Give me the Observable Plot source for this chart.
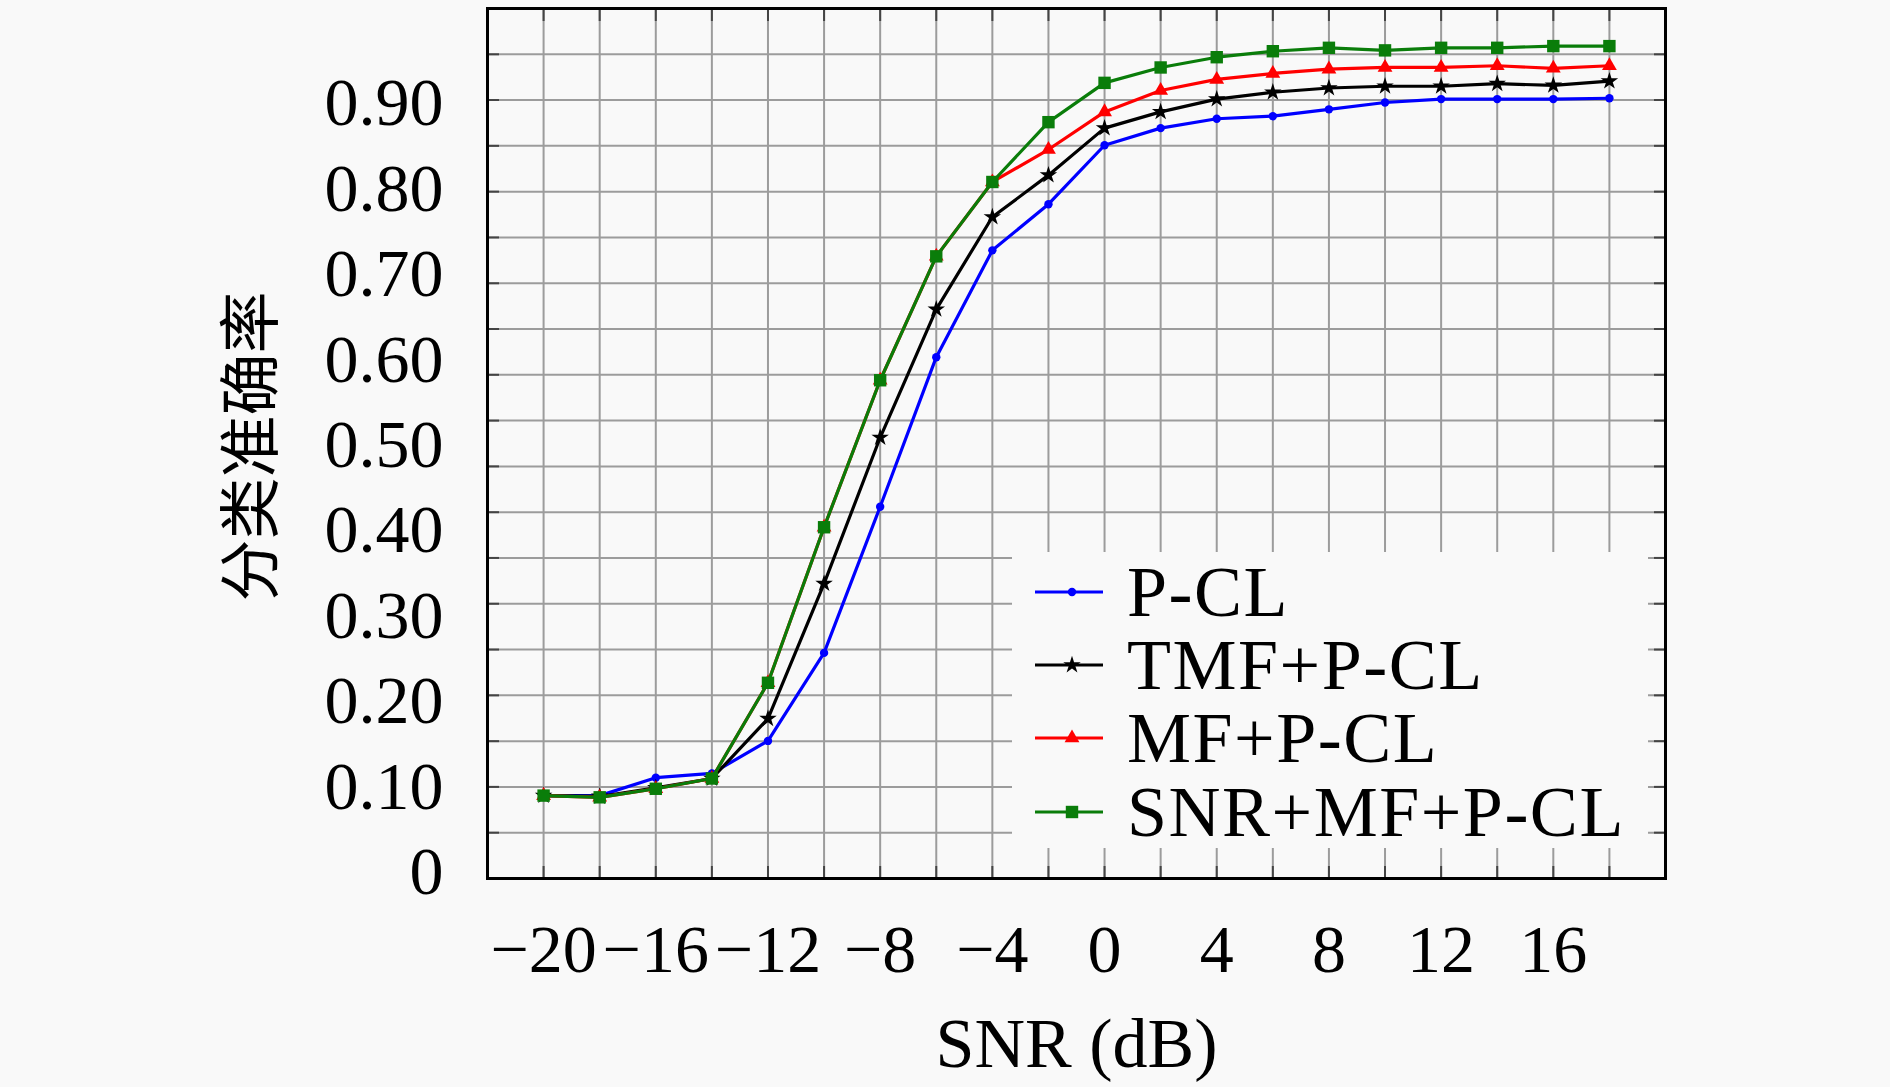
<!DOCTYPE html>
<html><head><meta charset="utf-8">
<script src="https://cdn.jsdelivr.net/npm/d3@7"></script>
<script src="https://cdn.jsdelivr.net/npm/@observablehq/plot@0.6"></script>
<style>
html,body{margin:0;padding:0;background:#f9f9f9;}
#wrap{position:relative;width:1890px;height:1087px;overflow:hidden;}
#legend{position:absolute;left:1012px;top:552px;width:636px;height:296px;background:#f9f9f9;font-family:"Liberation Serif",serif;font-size:72px;letter-spacing:1.5px;color:#000;}
.row{position:absolute;left:0;width:636px;height:80px;}
.row svg{position:absolute;left:20px;top:0;}
.row span{position:absolute;left:115px;top:0;height:80px;line-height:80px;white-space:nowrap;}
</style></head><body><div id="wrap"></div>
<script>
// ---- data ----
const snr = [-20,-18,-16,-14,-12,-10,-8,-6,-4,-2,0,2,4,6,8,10,12,14,16,18];
const pcl     = [0.090,0.090,0.111,0.116,0.154,0.257,0.428,0.603,0.728,0.782,0.851,0.871,0.882,0.885,0.893,0.901,0.905,0.905,0.905,0.906];
const tmfPcl  = [0.090,0.089,0.099,0.110,0.180,0.338,0.509,0.659,0.767,0.816,0.871,0.890,0.905,0.913,0.918,0.920,0.920,0.923,0.921,0.926];
const mfPcl   = [0.090,0.088,0.098,0.110,0.222,0.404,0.576,0.721,0.808,0.846,0.890,0.915,0.928,0.935,0.940,0.942,0.942,0.944,0.941,0.944];
const snrMfPcl= [0.090,0.088,0.098,0.110,0.222,0.404,0.576,0.721,0.808,0.878,0.924,0.942,0.954,0.961,0.965,0.962,0.965,0.965,0.967,0.967];

const seriesNames   = ["P-CL","TMF+P-CL","MF+P-CL","SNR+MF+P-CL"];
const seriesValues  = [pcl, tmfPcl, mfPcl, snrMfPcl];
const seriesColors  = ["#0000ff","#000000","#ff0000","#0a7d0a"];
const seriesSymbols = ["circle","star","triangle","square"];
const seriesR       = [4.2, 5.5, 5.5, 7];

const xTickLabels = [-20,-16,-12,-8,-4,0,4,8,12,16];
const xGrid = [-20,-18,-16,-14,-12,-10,-8,-6,-4,-2,0,2,4,6,8,10,12,14,16,18];
const yTickLabels = [0,0.1,0.2,0.3,0.4,0.5,0.6,0.7,0.8,0.9];
const yGrid = [0.0466,0.1002,0.1537,0.2073,0.2609,0.3145,0.3681,0.4216,0.4752,0.5288,0.5824,0.6360,0.6895,0.7431,0.7967,0.8503,0.9039,0.9574];
const xDomain = [-22, 20];
const yDomain = [-0.007, 1.011];
const xTitle = "SNR (dB)";
const yTitle = "分类准确率";

// ---- build ----
const rows = seriesNames.flatMap((name, i) =>
  snr.map((s, j) => ({snr: s, acc: seriesValues[i][j], series: name})));

const lineMarks = seriesNames.flatMap((name, i) => [
  Plot.line(rows.filter(d => d.series === name), {x: "snr", y: "acc", stroke: seriesColors[i], strokeWidth: 3.2}),
  Plot.dot(rows.filter(d => d.series === name), {x: "snr", y: "acc", fill: seriesColors[i], stroke: "none", symbol: seriesSymbols[i], r: seriesR[i]})
]);

const tickStyle = {tickSize: -12, tickFormat: () => "", label: null, stroke: "#444", strokeWidth: 2};

const chart = Plot.plot({
  width: 1890, height: 1087,
  marginLeft: 487, marginRight: 225, marginTop: 8, marginBottom: 209,
  style: {background: "#f9f9f9", fontFamily: "'Liberation Serif', serif", fontSize: "68px", color: "#000", overflow: "visible"},
  x: {domain: xDomain},
  y: {domain: yDomain},
  marks: [
    Plot.ruleX(xGrid, {stroke: "#9c9c9c", strokeWidth: 2}),
    Plot.ruleY(yGrid, {stroke: "#9c9c9c", strokeWidth: 2}),
    Plot.axisX({anchor: "bottom", ticks: xGrid, ...tickStyle}),
    Plot.axisX({anchor: "top", ticks: xGrid, ...tickStyle}),
    Plot.axisY({anchor: "left", ticks: yGrid, ...tickStyle}),
    Plot.axisY({anchor: "right", ticks: yGrid, ...tickStyle}),
    Plot.axisX({anchor: "bottom", ticks: xTickLabels, tickSize: 0, tickPadding: 45, label: null, fontSize: 68,
      tickFormat: d => d < 0 ? "\u2212" + Math.abs(d) : String(d)}),
    Plot.axisY({anchor: "left", ticks: yTickLabels, tickSize: 0, tickPadding: 44, label: null, fontSize: 68,
      tickFormat: d => d === 0 ? "0" : d.toFixed(2)}),
    ...lineMarks,
    Plot.frame({stroke: "#000", strokeWidth: 3}),
    Plot.text([xTitle], {text: d => d, frameAnchor: "bottom", dy: 166, textAnchor: "middle", lineAnchor: "middle", fontSize: 70}),
    Plot.text([yTitle], {text: d => d, frameAnchor: "left", dx: -234, dy: 3, rotate: -90, textAnchor: "middle", lineAnchor: "middle", fontSize: 62, fontFamily: "'Noto Sans CJK SC'"})
  ]
});

const wrap = document.getElementById("wrap");
wrap.appendChild(chart);

// legend (HTML overlay inside the plot frame)
const legend = d3.select(wrap).append("div").attr("id", "legend");
const rowCenters = [40, 113, 186, 260];
seriesNames.forEach((name, i) => {
  const row = legend.append("div").attr("class", "row").style("top", (rowCenters[i] - 40) + "px");
  const svg = row.append("svg").attr("width", 80).attr("height", 80);
  svg.append("line").attr("x1", 3).attr("x2", 71).attr("y1", 40).attr("y2", 40)
    .attr("stroke", seriesColors[i]).attr("stroke-width", 3.2);
  const sym = {circle: d3.symbolCircle, star: d3.symbolStar, triangle: d3.symbolTriangle, square: d3.symbolSquare}[seriesSymbols[i]];
  svg.append("path").attr("transform", "translate(40,40)")
    .attr("d", d3.symbol(sym, Math.PI * seriesR[i] * seriesR[i])())
    .attr("fill", seriesColors[i]);
  row.append("span").text(name);
});
</script>
</body></html>
